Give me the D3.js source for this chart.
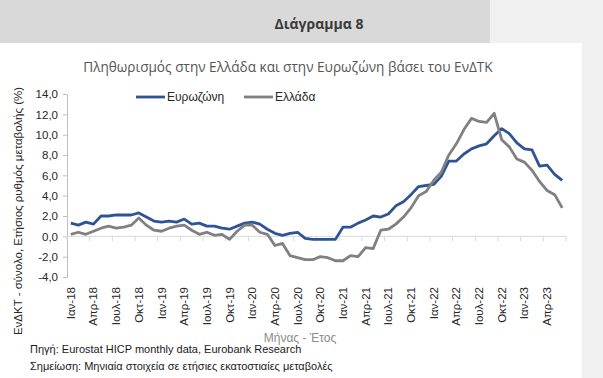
<!DOCTYPE html>
<html>
<head>
<meta charset="utf-8">
<script src="https://cdnjs.cloudflare.com/ajax/libs/d3/7.8.5/d3.min.js"></script>
<style>
  html, body { margin: 0; padding: 0; background: #f0f0f0; }
  svg { display: block; }
</style>
</head>
<body>
<div id="chart"></div>
<script>
// monthly categories Jan-2018 .. Jun-2023
const monthNames = ['Ιαν', 'Φεβ', 'Μαρ', 'Απρ', 'Μαϊ', 'Ιουν', 'Ιουλ', 'Αυγ', 'Σεπ', 'Οκτ', 'Νοε', 'Δεκ'];
const years = ['18', '19', '20', '21', '22', '23'];
const months = [];
years.forEach(y => monthNames.forEach(m => months.push(m + '-' + y)));
months.length = 66;

// euro area HICP, annual % change
const euroArea = [
  1.3, 1.1, 1.4, 1.2, 2.0, 2.0, 2.1, 2.1, 2.1, 2.3, 1.9, 1.5,
  1.4, 1.5, 1.4, 1.7, 1.2, 1.3, 1.0, 1.0, 0.8, 0.7, 1.0, 1.3,
  1.4, 1.2, 0.7, 0.3, 0.1, 0.3, 0.4, -0.2, -0.3, -0.3, -0.3, -0.3,
  0.9, 0.9, 1.3, 1.6, 2.0, 1.9, 2.2, 3.0, 3.4, 4.1, 4.9, 5.0,
  5.1, 5.9, 7.4, 7.4, 8.1, 8.6, 8.9, 9.1, 9.9, 10.6, 10.1, 9.2,
  8.6, 8.5, 6.9, 7.0, 6.1, 5.5
];

// Greece HICP, annual % change
const greece = [
  0.2, 0.4, 0.2, 0.5, 0.8, 1.0, 0.8, 0.9, 1.1, 1.8, 1.1, 0.6,
  0.5, 0.8, 1.0, 1.1, 0.6, 0.2, 0.4, 0.1, 0.2, -0.3, 0.5, 1.1,
  1.1, 0.4, 0.2, -0.9, -0.7, -1.9, -2.1, -2.3, -2.3, -2.0, -2.1, -2.4,
  -2.4, -1.9, -2.0, -1.1, -1.2, 0.6, 0.7, 1.2, 1.9, 2.8, 4.0, 4.4,
  5.5, 6.3, 8.0, 9.1, 10.5, 11.6, 11.3, 11.2, 12.1, 9.5, 8.8, 7.6,
  7.3, 6.5, 5.4, 4.5, 4.1, 2.8
];

const yTicks = [-4, -2, 0, 2, 4, 6, 8, 10, 12, 14];
const seriesNames = ['Ευρωζώνη', 'Ελλάδα'];
const seriesColors = ['#2f5496', '#808080'];

const W = 603, H = 378;
const plot = { left: 67, right: 566, top: 94, bottom: 277 };

const svg = d3.select('#chart').append('svg')
  .attr('width', W)
  .attr('height', H);

// backgrounds
svg.append('rect').attr('x', 0).attr('y', 0).attr('width', W).attr('height', H).attr('fill', '#f0f0f0');
svg.append('rect').attr('x', 0).attr('y', 0).attr('width', 490).attr('height', 43).attr('fill', '#d9d9d9');
svg.append('rect').attr('x', 0).attr('y', 43).attr('width', 582).attr('height', H - 43).attr('fill', '#ffffff');

svg.append('text')
  .attr('x', 319).attr('y', 29)
  .attr('text-anchor', 'middle')
  .style('font-family', '"Open Sans", sans-serif')
  .style('font-size', '14px')
  .style('font-weight', 'bold')
  .attr('fill', '#3b3b3b')
  .text('Διάγραμμα 8');

svg.append('text')
  .attr('x', 288).attr('y', 72)
  .attr('text-anchor', 'middle')
  .style('font-family', '"Open Sans", sans-serif')
  .style('font-size', '13.6px')
  .attr('fill', '#555555')
  .text('Πληθωρισμός στην Ελλάδα και στην Ευρωζώνη βάσει του ΕνΔΤΚ');

// scales
const x = d3.scaleBand()
  .domain(months)
  .range([plot.left, plot.right]);

const y = d3.scaleLinear()
  .domain([-4, 14])
  .range([plot.bottom, plot.top]);

const g = svg.append('g');

// y axis
const yAxis = g.append('g')
  .attr('transform', `translate(${plot.left},0)`)
  .call(d3.axisLeft(y)
    .tickValues(yTicks)
    .tickSize(4)
    .tickSizeOuter(0)
    .tickFormat(d => d3.format('.1f')(d).replace('.', ',').replace('−', '-')));
yAxis.select('.domain').attr('stroke', '#bfbfbf');
yAxis.selectAll('.tick line').attr('stroke', '#bfbfbf');
yAxis.selectAll('.tick text')
  .attr('x', -9)
  .style('font-family', '"Liberation Sans", sans-serif')
  .style('font-size', '11.5px')
  .attr('fill', '#262626');

// x axis at zero, ticks between categories every quarter
const quarterIdx = d3.range(0, months.length, 3);
const bw = x.bandwidth();
const xAxis = g.append('g');
xAxis.append('line')
  .attr('x1', plot.left).attr('x2', plot.right)
  .attr('y1', y(0)).attr('y2', y(0))
  .attr('stroke', '#d9d9d9');
xAxis.selectAll('.qtick')
  .data(quarterIdx.concat([months.length]))
  .enter().append('line')
  .attr('class', 'qtick')
  .attr('x1', i => plot.left + i * bw)
  .attr('x2', i => plot.left + i * bw)
  .attr('y1', y(0))
  .attr('y2', y(0) + 5)
  .attr('stroke', '#d9d9d9');

// labels sit low, under the -4 line
xAxis.selectAll('.qlabel')
  .data(quarterIdx)
  .enter().append('text')
  .attr('class', 'qlabel')
  .attr('transform', i => `translate(${x(months[i]) + bw / 2},${plot.bottom + 10}) rotate(-90)`)
  .attr('text-anchor', 'end')
  .attr('dy', '0.35em')
  .style('font-family', '"Liberation Sans", sans-serif')
  .style('font-size', '11.5px')
  .attr('fill', '#262626')
  .text(i => months[i]);

// lines
const line = d3.line()
  .x((d, i) => x(months[i]) + bw / 2)
  .y(d => y(d));

[euroArea, greece].forEach((s, k) => {
  g.append('path')
    .datum(s)
    .attr('d', line)
    .attr('fill', 'none')
    .attr('stroke', seriesColors[k])
    .attr('stroke-width', 2.8)
    .attr('stroke-linejoin', 'round');
});

// legend
const legendX = [136, 244];
seriesNames.forEach((name, k) => {
  const lg = svg.append('g').attr('transform', `translate(${legendX[k]},97)`);
  lg.append('line')
    .attr('x1', 0).attr('x2', 29)
    .attr('stroke', seriesColors[k])
    .attr('stroke-width', 2.8);
  lg.append('text')
    .attr('x', 31).attr('dy', '0.35em')
    .style('font-family', '"Liberation Sans", sans-serif')
    .style('font-size', '12px')
    .attr('fill', '#262626')
    .text(name);
});

// axis titles
svg.append('text')
  .attr('transform', 'translate(18,211) rotate(-90)')
  .attr('text-anchor', 'middle')
  .attr('dy', '0.35em')
  .style('font-family', '"Liberation Sans", sans-serif')
  .style('font-size', '11.5px')
  .attr('fill', '#262626')
  .text('ΕνΔΚΤ - σύνολο, Ετήσιος ρυθμός μεταβολής (%)');

svg.append('text')
  .attr('x', 300).attr('y', 342)
  .attr('text-anchor', 'middle')
  .style('font-family', '"Liberation Sans", sans-serif')
  .style('font-size', '12px')
  .attr('fill', '#8c8c8c')
  .text('Μήνας - Έτος');

// notes
svg.append('text')
  .attr('x', 30).attr('y', 353)
  .style('font-family', '"Liberation Sans", sans-serif')
  .style('font-size', '11px')
  .attr('fill', '#1a1a1a')
  .text('Πηγή: Eurostat HICP monthly data, Eurobank Research');

svg.append('text')
  .attr('x', 30).attr('y', 370)
  .style('font-family', '"Liberation Sans", sans-serif')
  .style('font-size', '11px')
  .attr('fill', '#1a1a1a')
  .text('Σημείωση: Μηνιαία στοιχεία σε ετήσιες εκατοστιαίες μεταβολές');
</script>
</body>
</html>
